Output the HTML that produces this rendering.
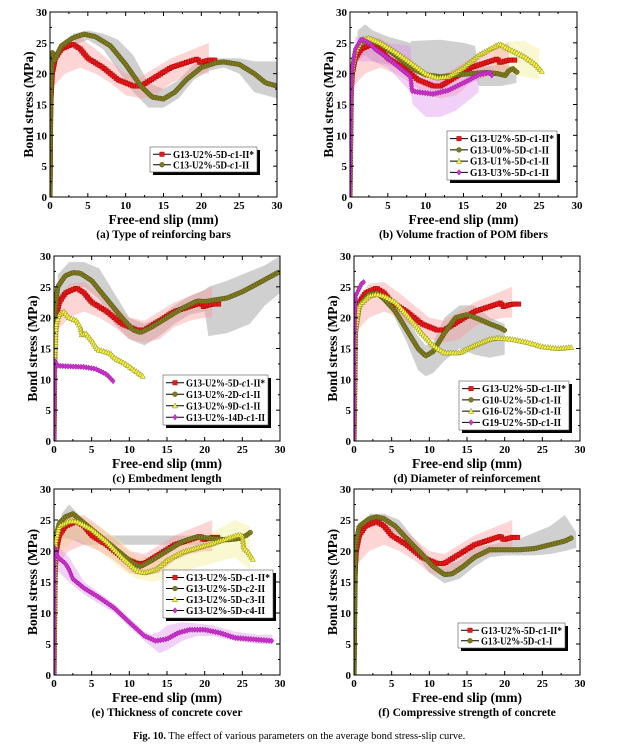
<!DOCTYPE html>
<html><head><meta charset="utf-8">
<style>
html,body{margin:0;padding:0;background:#fff;}
svg{display:block;font-family:"Liberation Serif",serif;}
</style></head>
<body>
<svg id="fig" width="617" height="754" viewBox="0 0 617 754" xmlns="http://www.w3.org/2000/svg"></svg>
<script>
// ---- data (x = slip mm, y = bond stress MPa) ----
const redBase = [[0,0],[0.1,15],[0.3,20],[0.7,22.5],[1.5,24],[3,24.8],[4,24],[5,22.5],[7,21],[9,19],[11,18],[12,18],[14,19.5],[16,21],[18,21.8],[19.5,22.4],[19.8,21.8],[21,22.2],[22,22.2]];
const redBandX = [0.5,2,4,6,8,10,12,14,16,18,20,21];
const redBandLo = [18,20,21,20,18.5,16.5,16,16.5,18.5,19.5,20,20];
const redBandHi = [23,25.5,25.8,24,22,20,19.5,21,22.5,23.5,24.5,25];

const aOlive = [[0,0],[0.1,17],[0.3,23.5],[0.5,22],[1.5,24.5],[3,25.8],[4.5,26.4],[6,26],[8,24.5],[10,21.5],[12,18],[13.5,16.2],[15,15.9],[16.5,17],[18,19],[20,21],[22,21.8],[23,21.9],[25,21.5],[27,20],[28.5,18.5],[30,18]];
const aGreyX = [3,5,7,9,11,13,15,17,19,21,23,25,27,30];
const aGreyLo = [24.5,25.5,24,20.5,17,14.5,14.5,16,19,20.5,21,20,17,16];
const aGreyHi = [26.5,27,26.5,25.5,23,18.5,17.5,19,21.5,22.5,22.5,22.5,22,22];

const bOlive = [[0,0],[0.2,20],[0.7,23.5],[1.5,25],[2.5,25.5],[4,24.8],[6,23],[8,21],[10,19.8],[12,19.5],[14,19.8],[16,20],[18,20.2],[19.5,20],[20.5,19.7],[21,20.5],[21.5,20.8],[22.3,20]];
const bYellow = [[0,0],[0.2,20],[0.7,23.5],[1.5,25.5],[2.5,25.8],[4,25],[6,23.5],[8,21.8],[10,20],[11.5,19.3],[13,19.5],[15,21],[17,23],[19,24.3],[19.8,24.8],[21,24],[23,22.8],[24.5,21.5],[25.5,20.2]];
const bMagenta = [[0,0],[0.2,20],[0.7,24],[1.5,25.6],[2.5,25],[3.3,24],[5,22.5],[7,20.5],[8,19.5],[8.2,17.2],[9,17],[11,16.7],[13,17.3],[15,18.5],[17,19.8],[18.5,20.2],[18.8,19.6]];
const bGreyX = [1,2,3,5,8,8.1,12,15,16.5,17,20,22];
const bGreyLo = [22,23,22,21.5,20,20,19.5,20,20,18,18,18.5];
const bGreyHi = [27,28,27,26,25,25.3,25.5,25,24.5,21,21.5,21];
const bYellowX = [19,21,23,25];
const bYellowLo = [20,20,19.5,19];
const bYellowHi = [25,25.2,25.3,24];
const bMagX = [0.7,3,5,8,8.3,10,12,14,16,17];
const bMagLo = [22,22,21,17,15,13,13,14,16,17];
const bMagHi = [26,26,25,24.5,19,19,19.5,20,20.5,21];

const cOlive = [[0,0],[0.1,21],[0.5,25],[1.5,26.8],[2.5,27.3],[3.5,27.2],[5,26],[7,23],[9,20],[10.5,18],[11.5,17.6],[13,18.5],[15,20],[17,21.5],[19,22.7],[20,22.6],[21,22.8],[23,23.2],[25,24.2],[27,25.5],[30,27.5]];
const cYellow = [[0,0],[0.1,13.5],[0.3,19],[0.7,20.5],[1.3,21],[2,20],[3,19.5],[3.5,18.5],[3.7,17.2],[4.2,17.5],[5,16.3],[5.8,14.8],[6.5,14.6],[7.5,14.2],[8,13.5],[9.5,12.5],[11,11.2],[11.8,10.5]];
const cMagenta = [[0,0],[0.1,13],[0.5,12.2],[2,12.1],[4,12],[5.5,11.7],[7,10.8],[8,9.5]];
const cGreyX = [0.5,2,4,6,8,10,12,14,16,18,20,20.5,23,26,28,30];
const cGreyLo = [21,24.5,25,23,19,16.5,15.5,17,19,20.5,21,17,17.5,19,22,24];
const cGreyHi = [27,29,29,28,24,20,19,20,22,23.5,24.5,25,26,27.5,28.5,30];

const dOlive = [[0,0],[0.2,18],[0.7,22],[2,23.8],[3,24],[4,23],[5.5,21],[7,18],[8.5,15],[9.5,13.8],[10.5,14.5],[12,17.5],[13.5,20],[15,20.5],[16.5,19.8],[18,19],[19.5,18.3],[20.2,17.8]];
const dYellow = [[0,0],[0.2,18],[0.7,22],[2,23.5],[3,23.8],[4,23.5],[5.5,22.5],[7,20.5],[9,17.5],[10.5,15.5],[12,14.3],[14,14.3],[16,15.5],[18,16.5],[19,16.7],[21,16.5],[23,16],[25,15.3],[27,15],[29,15.2]];
const dMagenta = [[0,0],[0.1,18],[0.2,23.5],[0.6,24.5],[1,25.5],[1.3,25.8]];
const dGreyX = [5,7,8.5,9.5,10.5,12,14,16,18,20];
const dGreyLo = [21,16,11.5,10.5,11,13,15,14,13.5,14];
const dGreyHi = [23,20,17,15.5,16,20,22,22,20,19];

const eOlive = [[0,0],[0.2,22],[0.7,24.5],[1.5,25.5],[2.5,26],[3.5,25],[5,23.5],[7,21.5],[9,19.5],[10.5,18],[11.5,17.5],[13,18.5],[15,20],[17,21.5],[19,22.3],[21,22],[23,21.8],[24.5,22],[25.5,22.5],[26.3,23.2]];
const eYellow = [[0,0],[0.2,21.5],[0.7,24],[2,24.8],[3,24.8],[5,23.5],[7,21.5],[9,19],[11,16.8],[12,16.5],[13.5,17],[15,18.5],[17,19.8],[19,20.5],[21,21.2],[23,22],[24.5,22.6],[25,22.5],[25.2,20.5],[25.8,19.8],[26.5,18.5]];
const eMagenta = [[0,0],[0.1,20.5],[0.5,19],[1.5,18],[2,17],[2.5,15.5],[4,14],[6,12.5],[8,10.8],[10,8.5],[12,6.3],[13.5,5.5],[15,5.8],[16.5,6.8],[18,7.3],[20,7.3],[22,6.8],[24,6],[26,5.8],[29,5.5]];
const eGreyX = [1,2,4,4.5,5,10,15,19,20];
const eGreyLo = [22,22,21,21,21,21,21,21,21];
const eGreyHi = [26,27.5,25,22,22.5,22.5,22.5,22.5,22];
const eYellowX = [1,3,6,9,11,13,15,18,21,24,26];
const eYellowLo = [20,22,20,17,15.5,15,15.5,17,18,19,17];
const eYellowHi = [25,26,24,21.5,19,19,20,21.5,23,25,24];
const eMagX = [0.3,2,4,8,12,13,14,15,17,19,21,24,27,29];
const eMagLo = [17,15,13,10,5.5,4.5,3.5,4,5.5,6.3,6.3,5.5,5,5];
const eMagHi = [21,19,15,11.5,7,6.5,7,8,8.5,8.3,8,7,6.5,6.5];

const fOlive = [[0,0],[0.2,21],[0.7,24],[2,25.2],[3,25.5],[4,25.2],[5.5,24],[7,22],[9,19.5],[10.5,17.5],[12,16.2],[13,16.3],[14.5,17.5],[16,19],[18,20.2],[20,20.2],[22,20.2],[24,20.4],[26,21],[28,21.6],[29,22.2]];
const fGreyX = [2,4,6,8,10,12,14,16,18,20,22,24,26,28,29.5];
const fGreyLo = [24,24,22.5,20,16.5,14.8,15.5,17.5,19,19.3,19.3,19.3,19.5,20,20.5];
const fGreyHi = [26,26,25,22,19,17.5,18.5,20.5,21,21.5,22,23,24,25.8,23];

const xTicks = [0,5,10,15,20,25,30];
const yTicks = [0,5,10,15,20,25,30];

// ---- styling / layout (not data) ----
const ST = {
  red:{fill:'#e41a1c',stroke:'#b00000',m:'square'},
  olive:{fill:'#7d7a22',stroke:'#55520f',m:'circle'},
  yellow:{fill:'#f4f04a',stroke:'#8a8a10',m:'triangle'},
  magenta:{fill:'#cc33cc',stroke:'#9a1a9a',m:'diamond'}
};
const BANDC = {pink:'rgba(250,150,150,0.4)',grey:'rgba(150,150,150,0.45)',yellow:'rgba(245,240,150,0.45)',magenta:'rgba(220,140,235,0.4)'};

const PANELS = [
 {id:'a',x0:50,x1:277,y0:12,y1:197,cap:'(a) Type of reinforcing bars',
  bands:[['grey',aGreyX,aGreyLo,aGreyHi],['pink',redBandX,redBandLo,redBandHi]],
  series:[['red',redBase],['olive',aOlive]],
  leg:{x:150,y:147,w:107,h:25,items:[['red','G13-U2%-5D-','c','1-II*'],['olive','C13-U2%-5D-','c','1-II']]}},
 {id:'b',x0:350,x1:577,y0:12,y1:197,cap:'(b) Volume fraction of POM fibers',
  bands:[['grey',bGreyX,bGreyLo,bGreyHi],['yellow',bYellowX,bYellowLo,bYellowHi],['pink',redBandX,redBandLo,redBandHi],['magenta',bMagX,bMagLo,bMagHi]],
  series:[['red',redBase],['olive',bOlive],['yellow',bYellow],['magenta',bMagenta]],
  leg:{x:447,y:131,w:110,h:49,items:[['red','G13-U2%-5D-','c','1-II*'],['olive','G13-U0%-5D-','c','1-II'],['yellow','G13-U1%-5D-','c','1-II'],['magenta','G13-U3%-5D-','c','1-II']]}},
 {id:'c',x0:54,x1:280,y0:256,y1:441,cap:'(c) Embedment length',
  bands:[['grey',cGreyX,cGreyLo,cGreyHi],['pink',redBandX,redBandLo,redBandHi]],
  series:[['red',redBase],['olive',cOlive],['yellow',cYellow],['magenta',cMagenta]],
  leg:{x:163,y:375,w:105,h:50,items:[['red','G13-U2%-5D-','c','1-II*'],['olive','G13-U2%-2D-','c','1-II'],['yellow','G13-U2%-9D-','c','1-II'],['magenta','G13-U2%-14D-','c','1-II']]}},
 {id:'d',x0:354,x1:580,y0:256,y1:441,cap:'(d) Diameter of reinforcement',
  bands:[['grey',dGreyX,dGreyLo,dGreyHi],['pink',redBandX,redBandLo,redBandHi]],
  series:[['red',redBase],['olive',dOlive],['yellow',dYellow],['magenta',dMagenta]],
  leg:{x:459,y:381,w:110,h:49,items:[['red','G13-U2%-5D-','c','1-II*'],['olive','G10-U2%-5D-','c','1-II'],['yellow','G16-U2%-5D-','c','1-II'],['magenta','G19-U2%-5D-','c','1-II']]}},
 {id:'e',x0:54,x1:280,y0:489,y1:675,cap:'(e) Thickness of concrete cover',
  bands:[['grey',eGreyX,eGreyLo,eGreyHi],['yellow',eYellowX,eYellowLo,eYellowHi],['pink',redBandX,redBandLo,redBandHi],['magenta',eMagX,eMagLo,eMagHi]],
  series:[['red',redBase],['olive',eOlive],['yellow',eYellow],['magenta',eMagenta]],
  leg:{x:163,y:570,w:110,h:48,items:[['red','G13-U2%-5D-','c','1-II*'],['olive','G13-U2%-5D-','c','2-II'],['yellow','G13-U2%-5D-','c','3-II'],['magenta','G13-U2%-5D-','c','4-II']]}},
 {id:'f',x0:354,x1:580,y0:489,y1:675,cap:'(f) Compressive strength of concrete',
  bands:[['grey',fGreyX,fGreyLo,fGreyHi],['pink',redBandX,redBandLo,redBandHi]],
  series:[['red',redBase],['olive',fOlive]],
  leg:{x:458,y:623,w:107,h:25,items:[['red','G13-U2%-5D-','c','1-II*'],['olive','G13-U2%-5D-','c','1-I']]}}
];

const NS='http://www.w3.org/2000/svg';
const svg=document.getElementById('fig');
function mk(tag,attrs,parent){const e=document.createElementNS(NS,tag);for(const k in attrs)e.setAttribute(k,attrs[k]);(parent||svg).appendChild(e);return e;}

function marker(g,type,cx,cy,st){
  let e;const s=2.2;
  if(type==='square') e=mk('rect',{x:cx-s,y:cy-s,width:2*s,height:2*s},g);
  else if(type==='circle') e=mk('circle',{cx:cx,cy:cy,r:s+0.2},g);
  else if(type==='triangle') e=mk('polygon',{points:`${cx},${cy-s-0.6} ${cx+s+0.4},${cy+s} ${cx-s-0.4},${cy+s}`},g);
  else e=mk('polygon',{points:`${cx},${cy-s-0.6} ${cx+s},${cy} ${cx},${cy+s+0.6} ${cx-s},${cy}`},g);
  e.setAttribute('fill',st.fill);e.setAttribute('stroke',st.stroke);e.setAttribute('stroke-width','0.5');
  return e;
}

PANELS.forEach(p=>{
  const sx=v=>p.x0+(p.x1-p.x0)*v/30;
  const sy=v=>p.y1-(p.y1-p.y0)*v/30;
  const g=mk('g',{});
  
  
  const clipId='clip'+p.id;
  const cp=mk('clipPath',{id:clipId},g);
  mk('rect',{x:p.x0,y:p.y0,width:p.x1-p.x0,height:p.y1-p.y0},cp);
  const plot=mk('g',{'clip-path':`url(#${clipId})`},g);
  p.bands.forEach(([c,bx,lo,hi])=>{
    let pts=bx.map((x,j)=>`${sx(x)},${sy(hi[j])}`);
    for(let j=bx.length-1;j>=0;j--) pts.push(`${sx(bx[j])},${sy(lo[j])}`);
    const b=mk('polygon',{points:pts.join(' '),fill:BANDC[c]},plot);
    
    
  });
  p.series.forEach(([c,data])=>{
    const st=ST[c];
    const sg=mk('g',{},plot);
    
    
    const px=data.map(d=>[sx(d[0]),sy(d[1])]);
    mk('polyline',{points:px.map(q=>q.join(',')).join(' '),fill:'none',stroke:st.stroke,'stroke-width':1},sg);
    let acc=0;const step=2.6;
    marker(sg,st.m,px[0][0],px[0][1],st);
    for(let i=1;i<px.length;i++){
      const dx=px[i][0]-px[i-1][0],dy=px[i][1]-px[i-1][1];const L=Math.hypot(dx,dy);
      let t=step-acc;
      while(t<=L){marker(sg,st.m,px[i-1][0]+dx*t/L,px[i-1][1]+dy*t/L,st);t+=step;}
      acc=L-(t-step);
    }
  });
  mk('rect',{x:p.x0,y:p.y0,width:p.x1-p.x0,height:p.y1-p.y0,fill:'none',stroke:'#000','stroke-width':1},g);
  for(let v=0;v<=30;v+=2.5){
    const major=v%5===0;const L=major?4:2;
    const X=sx(v),Y=sy(v);
    mk('line',{x1:X,y1:p.y1,x2:X,y2:p.y1-L,stroke:'#000'},g);
    mk('line',{x1:X,y1:p.y0,x2:X,y2:p.y0+L,stroke:'#000'},g);
    mk('line',{x1:p.x0,y1:Y,x2:p.x0+L,y2:Y,stroke:'#000'},g);
    mk('line',{x1:p.x1,y1:Y,x2:p.x1-L,y2:Y,stroke:'#000'},g);
  }
  xTicks.forEach(v=>{
    const t=mk('text',{x:sx(v),y:p.y1+12,'text-anchor':'middle','font-size':11,'font-weight':'bold'},g);
    t.textContent=v;
    
    
  });
  yTicks.forEach(v=>{
    const t=mk('text',{x:p.x0-3,y:sy(v)+4,'text-anchor':'end','font-size':11,'font-weight':'bold'},g);
    t.textContent=v;
    
    
  });
  const xt=mk('text',{x:(p.x0+p.x1)/2,y:p.y1+27,'text-anchor':'middle','font-size':13.5,'font-weight':'bold'},g);
  xt.textContent='Free-end slip (mm)';
  
  
  const yc=(p.y0+p.y1)/2,yx=p.x0-20;
  const yt=mk('text',{x:yx,y:yc,'text-anchor':'middle','font-size':13.5,'font-weight':'bold',transform:`rotate(-90 ${yx} ${yc})`,'dominant-baseline':'middle'},g);
  yt.textContent='Bond stress (MPa)';
  
  
  const cap=mk('text',{x:(p.x0+p.x1)/2,y:p.y1+41,'text-anchor':'middle','font-size':11.5,'font-weight':'bold'},g);
  cap.textContent=p.cap;
  
  
  const lg=p.leg;
  const leg=mk('g',{},g);
  
  
  mk('rect',{x:lg.x+3,y:lg.y+3,width:lg.w,height:lg.h,fill:'#000'},leg);
  mk('rect',{x:lg.x,y:lg.y,width:lg.w,height:lg.h,fill:'#fff',stroke:'#555','stroke-width':0.6},leg);
  const n=lg.items.length,rh=(lg.h-4)/n;
  lg.items.forEach((it,i)=>{
    const st=ST[it[0]];const cy=lg.y+2+rh*(i+0.5);
    const eg=mk('g',{},leg);
    
    
    mk('line',{x1:lg.x+3,y1:cy,x2:lg.x+21,y2:cy,stroke:'#000','stroke-width':1},eg);
    marker(eg,st.m,lg.x+12,cy,st);
    const full=it[1]+it[2]+it[3];
    const tl=(lg.w-26)*full.length/17;
    const t=mk('text',{x:lg.x+23,y:cy+3.5,'font-size':10,'font-weight':'bold',textLength:tl,lengthAdjust:'spacingAndGlyphs'},eg);
    t.appendChild(document.createTextNode(it[1]));
    const b=mk('tspan',{'font-style':'italic'},t);b.textContent=it[2];
    t.appendChild(document.createTextNode(it[3]));
  });
});
const fc=mk('text',{x:133,y:739,'font-size':10.5});


const fb=mk('tspan',{'font-weight':'bold'},fc);fb.textContent='Fig. 10.';
const fr=mk('tspan',{},fc);fr.textContent='  The effect of various parameters on the average bond stress-slip curve.';
</script>
</body></html>
